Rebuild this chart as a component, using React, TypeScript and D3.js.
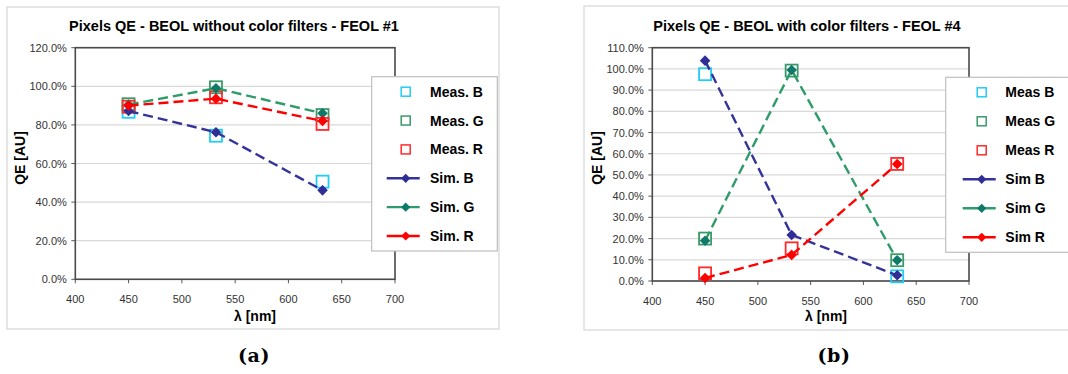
import React from "react";
import * as d3 from "d3";

// ---------- data ----------
const wavelengths = [450, 532, 632];

// (a) BEOL without color filters - FEOL #1
const aMeasB = [86.8, 74.4, 50.6];
const aMeasG = [90.7, 99.5, 85.1];
const aMeasR = [89.4, 94.3, 80.5];
const aSimB = [87.2, 76.2, 46.1];
const aSimG = [90.5, 99.0, 86.0];
const aSimR = [90.0, 93.6, 82.0];

// (b) BEOL with color filters - FEOL #4
const bMeasB: (number | null)[] = [97.5, null, 2.2];
const bMeasG = [20.0, 99.2, 9.8];
const bMeasR = [3.6, 15.4, 55.2];
const bSimB = [103.9, 21.7, 2.7];
const bSimG = [19.0, 99.5, 9.8];
const bSimR = [1.4, 12.3, 55.2];

const xTicks = [400, 450, 500, 550, 600, 650, 700];
const aYTicks = [0, 20, 40, 60, 80, 100, 120];
const bYTicks = [0, 10, 20, 30, 40, 50, 60, 70, 80, 90, 100, 110];

const aLegend = ["Meas. B", "Meas. G", "Meas. R", "Sim. B", "Sim. G", "Sim. R"];
const bLegend = ["Meas B", "Meas G", "Meas R", "Sim B", "Sim G", "Sim R"];

// ---------- styles ----------
const measColors = ["#22ccf5", "#3a9a6a", "#ff2a2a"];
const simLineColors = ["#333399", "#2e9b6a", "#ff0000"];
const simMarkColors = ["#2e2e96", "#0f7a6a", "#ff0000"];
const SANS = "'Liberation Sans', Arial, sans-serif";

type Cfg = {
  frame: [number, number, number, number];
  plot: { l: number; r: number; t: number; b: number };
  yMax: number;
  yTicks: number[];
  title: string;
  titleX: number;
  yLabelX: number;
  xLabelX: number;
  legend: { x0: number; x1: number; y0: number; y1: number; symX: number; textX: number };
  legendLabels: string[];
  meas: (number | null)[][];
  sim: number[][];
  caption: string;
  captionX: number;
};

const diamond = (cx: number, cy: number, r: number) =>
  `M${cx},${cy - r}L${cx + r},${cy}L${cx},${cy + r}L${cx - r},${cy}Z`;

function Chart({ c }: { c: Cfg }) {
  const x = d3.scaleLinear().domain([400, 700]).range([c.plot.l, c.plot.r]);
  const y = d3.scaleLinear().domain([0, c.yMax]).range([c.plot.b, c.plot.t]);
  const fmt = (v: number) => d3.format(".1f")(v) + "%";
  const line = d3
    .line<[number, number | null]>()
    .defined((d) => d[1] !== null)
    .x((d) => x(d[0]))
    .y((d) => y(d[1] as number));
  const [fx0, fy0, fx1, fy1] = c.frame;
  const lg = c.legend;
  const rowStep = (lg.y1 - lg.y0 - 30) / 5;
  return (
    <g>
      <rect x={fx0} y={fy0} width={fx1 - fx0} height={fy1 - fy0} fill="#fff" stroke="#d9d9d9" strokeWidth={1.3} />
      <text x={c.titleX} y={31} textAnchor="middle" fontFamily={SANS} fontWeight="bold" fontSize={14.5} fill="#000">
        {c.title}
      </text>
      {/* gridlines */}
      {c.yTicks.map((t) => (
        <line key={"g" + t} x1={c.plot.l} x2={c.plot.r} y1={y(t)} y2={y(t)} stroke="#d9d9d9" strokeWidth={1.2} />
      ))}
      {/* y ticks + labels */}
      {c.yTicks.map((t) => (
        <g key={"y" + t}>
          <line x1={c.plot.l - 4} x2={c.plot.l} y1={y(t)} y2={y(t)} stroke="#595959" strokeWidth={1} />
          <text x={c.plot.l - 8.5} y={y(t) + 4} textAnchor="end" fontFamily={SANS} fontSize={11} fill="#333">
            {fmt(t)}
          </text>
        </g>
      ))}
      {xTicks.map((t) => (
        <g key={"x" + t}>
          <line x1={x(t)} x2={x(t)} y1={c.plot.b} y2={c.plot.b + 4} stroke="#595959" strokeWidth={1} />
          <text x={x(t)} y={c.plot.b + 24} textAnchor="middle" fontFamily={SANS} fontSize={11} fill="#333">
            {t}
          </text>
        </g>
      ))}
      <rect x={c.plot.l} y={c.plot.t} width={c.plot.r - c.plot.l} height={c.plot.b - c.plot.t} fill="none" stroke="#4a4a4a" strokeWidth={1.6} />
      <text x={c.xLabelX} y={321} textAnchor="middle" fontFamily={SANS} fontWeight="bold" fontSize={14} fill="#000">
        λ [nm]
      </text>
      <text
        transform={`translate(${c.yLabelX + 5},158) rotate(-90)`}
        textAnchor="middle"
        fontFamily={SANS}
        fontWeight="bold"
        fontSize={14}
        fill="#000"
      >
        QE [AU]
      </text>
      {/* measured squares */}
      {c.meas.map((s, i) =>
        s.map((v, j) =>
          v === null ? null : (
            <rect
              key={`m${i}-${j}`}
              x={x(wavelengths[j]) - 6}
              y={y(v) - 6}
              width={12}
              height={12}
              fill="none"
              stroke={measColors[i]}
              strokeWidth={1.8}
            />
          )
        )
      )}
      {/* simulated lines */}
      {c.sim.map((s, i) => (
        <g key={"s" + i}>
          <path
            d={line(s.map((v, j) => [wavelengths[j], v] as [number, number | null])) || ""}
            fill="none"
            stroke={simLineColors[i]}
            strokeWidth={2.4}
            strokeDasharray="10,5"
          />
          {s.map((v, j) => (
            <path key={j} d={diamond(x(wavelengths[j]), y(v), 5.3)} fill={simMarkColors[i]} />
          ))}
        </g>
      ))}
      {/* legend */}
      <rect x={lg.x0} y={lg.y0} width={lg.x1 - lg.x0} height={lg.y1 - lg.y0} fill="#fff" stroke="#bfbfbf" strokeWidth={1.2} />
      {c.legendLabels.map((lab, i) => {
        const cy = lg.y0 + 15 + rowStep * i;
        const k = i % 3;
        return (
          <g key={"l" + i}>
            {i < 3 ? (
              <rect x={lg.symX - 4.5} y={cy - 4.5} width={9} height={9} fill="none" stroke={measColors[k]} strokeWidth={1.5} />
            ) : (
              <g>
                <line x1={lg.symX - 19} x2={lg.symX + 14} y1={cy} y2={cy} stroke={simLineColors[k]} strokeWidth={2.4} />
                <path d={diamond(lg.symX, cy, 4.6)} fill={simMarkColors[k]} />
              </g>
            )}
            <text x={lg.textX} y={cy + 5} fontFamily={SANS} fontWeight="bold" fontSize={14} fill="#000">
              {lab}
            </text>
          </g>
        );
      })}
      <text
        x={c.captionX}
        y={362}
        textAnchor="middle"
        fontFamily="'DejaVu Serif', serif"
        fontWeight="bold"
        fontSize={19}
        letterSpacing={0.5}
        fill="#000"
      >
        {c.caption}
      </text>
    </g>
  );
}

const cfgA: Cfg = {
  frame: [7, 7, 499, 329],
  plot: { l: 75.3, r: 395, t: 47.7, b: 279.3 },
  yMax: 120,
  yTicks: aYTicks,
  title: "Pixels QE - BEOL without color filters - FEOL #1",
  titleX: 234,
  yLabelX: 20,
  xLabelX: 255,
  legend: { x0: 371.7, x1: 497.3, y0: 76.7, y1: 251, symX: 405.7, textX: 430 },
  legendLabels: aLegend,
  meas: [aMeasB, aMeasG, aMeasR],
  sim: [aSimB, aSimG, aSimR],
  caption: "(a)",
  captionX: 254,
};

const cfgB: Cfg = {
  frame: [584, 6, 1080, 330],
  plot: { l: 652.3, r: 969, t: 47.7, b: 281 },
  yMax: 110,
  yTicks: bYTicks,
  title: "Pixels QE - BEOL with color filters - FEOL #4",
  titleX: 807,
  yLabelX: 596.7,
  xLabelX: 826,
  legend: { x0: 945.7, x1: 1080, y0: 77.3, y1: 252.3, symX: 981.7, textX: 1005.3 },
  legendLabels: bLegend,
  meas: [bMeasB, bMeasG, bMeasR],
  sim: [bSimB, bSimG, bSimR],
  caption: "(b)",
  captionX: 834,
};

export default function App() {
  return (
    <svg
      width={1068}
      height={374}
      style={{ position: "absolute", left: 0, top: 0, background: "#fff" }}
    >
      <rect width={1068} height={374} fill="#fff" />
      <Chart c={cfgA} />
      <Chart c={cfgB} />
    </svg>
  );
}
